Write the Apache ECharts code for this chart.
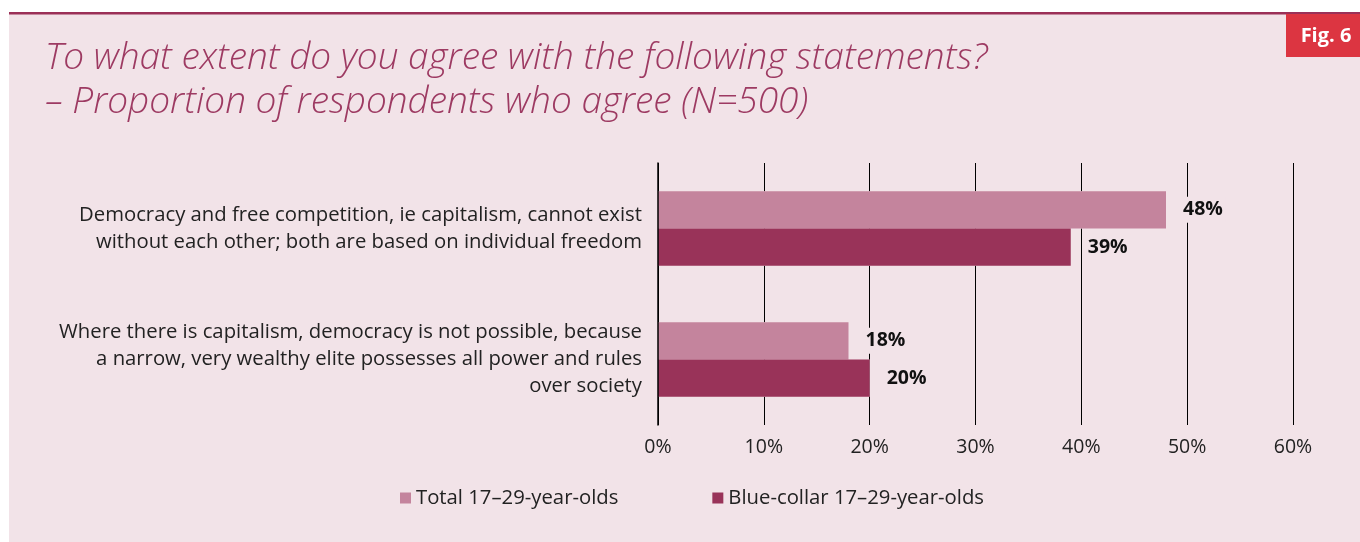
<!DOCTYPE html>
<html>
<head>
<meta charset="utf-8">
<style>
  html, body { margin: 0; padding: 0; background: #ffffff; }
  #chart { width: 1360px; height: 542px; }
</style>
<script src="https://cdn.jsdelivr.net/npm/echarts@6/dist/echarts.min.js"></script>
</head>
<body>
<div id="chart"></div>
<script>
const categories = [
  "Democracy and free competition, ie capitalism, cannot exist\nwithout each other; both are based on individual freedom",
  "Where there is capitalism, democracy is not possible, because\na narrow, very wealthy elite possesses all power and rules\nover society"
];
const seriesNames = ["Total 17\u201329-year-olds", "Blue-collar 17\u201329-year-olds"];
const totalValues = [48, 18];
const blueCollarValues = [39, 20];
const titleLines = [
  "To what extent do you agree with the following statements?",
  "\u2013 Proportion of respondents who agree (N=500)"
];
const figLabel = "Fig. 6";

const PANEL = "#f2e3e8";
const LIGHT = "#c4849d";
const DARK = "#993359";
const FONT = "'Open Sans', 'Noto Sans', sans-serif";

const chart = echarts.init(document.getElementById('chart'), null, { renderer: 'canvas' });

const labelCfg = {
  show: true,
  position: 'right',
  distance: 14,
  formatter: '{c}%',
  fontFamily: FONT,
  fontSize: 19.5,
  fontWeight: 'bold',
  color: '#111',
  backgroundColor: PANEL,
  padding: [3, 3]
};

const option = {
  backgroundColor: '#ffffff',
  animation: false,
  graphic: [
    { type: 'rect', z: -10, shape: { x: 9, y: 14, width: 1351, height: 528 }, style: { fill: PANEL } },
    { type: 'rect', z: -9, shape: { x: 9, y: 12, width: 1351, height: 2.5 }, style: { fill: '#9b3057' } },
    { type: 'rect', z: 10, shape: { x: 1286, y: 14, width: 74, height: 43 }, style: { fill: '#dc3541' } },
    { type: 'text', z: 11, x: 1326, y: 36, style: { text: figLabel, fill: '#fff', font: "bold 20px " + FONT, textAlign: 'center', textVerticalAlign: 'middle' } },
    { type: 'text', z: 11, x: 45, y: 58, style: { text: titleLines[0], fill: '#9d3a62', font: "italic 300 37px " + FONT, textAlign: 'left', textVerticalAlign: 'middle' } },
    { type: 'text', z: 11, x: 45, y: 102, style: { text: titleLines[1], fill: '#9d3a62', font: "italic 300 37px " + FONT, textAlign: 'left', textVerticalAlign: 'middle' } }
  ],
  legend: {
    data: seriesNames,
    left: 400,
    top: 488,
    padding: 0,
    itemWidth: 11,
    itemHeight: 11,
    itemGap: 94,
    icon: 'rect',
    textStyle: { fontFamily: FONT, fontSize: 20.3, color: '#222' }
  },
  grid: { left: 658, right: 67, top: 163, bottom: 117, containLabel: false },
  xAxis: {
    type: 'value',
    min: 0, max: 60, interval: 10,
    axisLine: { show: false },
    axisTick: { show: false },
    splitLine: { show: true, lineStyle: { color: '#000', width: 1 } },
    axisLabel: { formatter: '{value}%', margin: 12, fontFamily: FONT, fontSize: 19.5, color: '#222' }
  },
  yAxis: [
    {
      type: 'category',
      data: categories,
      inverse: true,
      z: 5,
      axisLine: { show: true, lineStyle: { color: '#000', width: 1.5 } },
      axisTick: { show: false },
      axisLabel: { margin: 16, fontFamily: FONT, fontSize: 20.3, color: '#222', lineHeight: 27, align: 'right' }
    },
    {
      type: 'category',
      data: categories,
      inverse: true,
      show: false
    }
  ],
  series: [
    { name: 'bg1', type: 'bar', yAxisIndex: 1, data: totalValues, silent: true, z: 1,
      barGap: '0%', barCategoryGap: '43%',
      itemStyle: { color: PANEL, borderColor: PANEL, borderWidth: 7 } },
    { name: 'bg2', type: 'bar', yAxisIndex: 1, data: blueCollarValues, silent: true, z: 1,
      barGap: '0%', barCategoryGap: '43%',
      itemStyle: { color: PANEL, borderColor: PANEL, borderWidth: 7 } },
    { name: seriesNames[0], type: 'bar', yAxisIndex: 0, data: totalValues, z: 2,
      barGap: '0%', barCategoryGap: '43%',
      itemStyle: { color: LIGHT }, label: labelCfg },
    { name: seriesNames[1], type: 'bar', yAxisIndex: 0, data: blueCollarValues, z: 2,
      barGap: '0%', barCategoryGap: '43%',
      itemStyle: { color: DARK }, label: labelCfg }
  ]
};
chart.setOption(option);
</script>
</body>
</html>
